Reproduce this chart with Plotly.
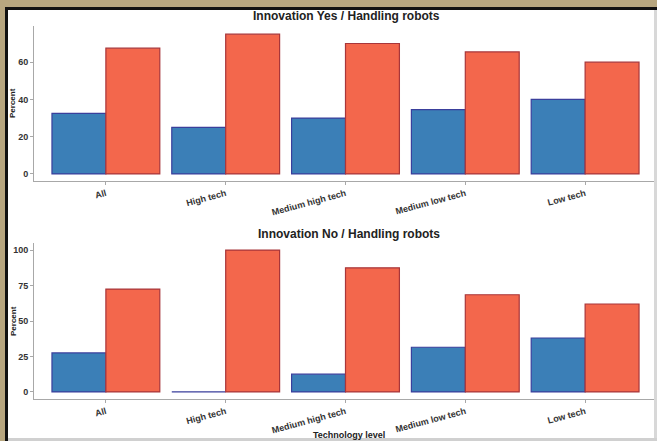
import plotly.graph_objects as go

# Technology levels and shares (percent) of firms without / with handling robots
categories = ["All", "High tech", "Medium high tech", "Medium low tech", "Low tech"]
yes_no_robots = [32.5, 25.0, 30.0, 34.5, 40.0]
yes_robots = [67.5, 75.0, 70.0, 65.5, 60.0]
no_no_robots = [27.5, 0.0, 12.5, 31.5, 38.0]
no_robots = [72.5, 100.0, 87.5, 68.5, 62.0]

W, H = 657, 441
BLUE, BLUE_EDGE = "#3b7fb7", "#3a3f9c"
RED, RED_EDGE = "#f3674c", "#a8363a"
FONT = "Liberation Sans"


def py(px):
    return 1 - px / H


def px_x(px):
    return px / W


fig = go.Figure()

for xa, ya, low, high in [("x", "y", yes_no_robots, yes_robots),
                          ("x2", "y2", no_no_robots, no_robots)]:
    fig.add_trace(go.Bar(x=categories, y=low, xaxis=xa, yaxis=ya,
                         marker=dict(color=BLUE, line=dict(color=BLUE_EDGE, width=1.2)),
                         showlegend=False))
    fig.add_trace(go.Bar(x=categories, y=high, xaxis=xa, yaxis=ya,
                         marker=dict(color=RED, line=dict(color=RED_EDGE, width=1.2)),
                         showlegend=False))

tickfont = dict(family=FONT, size=9, color="#333333", weight="bold")
xcommon = dict(range=[-0.6, 4.6], showline=True, linecolor="#a8a8a8", linewidth=1,
               ticks="outside", ticklen=3, tickcolor="#a8a8a8", tickangle=-15,
               tickfont=tickfont, showgrid=False, zeroline=False, fixedrange=True,
               domain=[px_x(34), 1.0])
ycommon = dict(showline=True, linecolor="#a8a8a8", linewidth=1, ticks="outside",
               ticklen=3, tickcolor="#a8a8a8", tickfont=tickfont, showgrid=False,
               zeroline=False, fixedrange=True)

fig.update_layout(
    width=W, height=H, margin=dict(l=0, r=0, t=0, b=0),
    paper_bgcolor="white", plot_bgcolor="white",
    barmode="group", bargap=0.1, bargroupgap=0,
    xaxis=dict(**xcommon, anchor="y"),
    yaxis=dict(**ycommon, anchor="x", range=[-3.78, 79.4], tickvals=[0, 20, 40, 60],
               domain=[py(181), py(26)]),
    xaxis2=dict(**xcommon, anchor="y2"),
    yaxis2=dict(**ycommon, anchor="x2", range=[-5, 105], tickvals=[0, 25, 50, 75, 100],
                domain=[py(399), py(243)]),
)

titlefont = dict(family=FONT, size=12, color="#222222", weight="bold")
labelfont = dict(family=FONT, size=8, color="#222222", weight="bold")
annotations = [
    dict(text="Innovation Yes / Handling robots", x=px_x(346), y=py(16), font=titlefont),
    dict(text="Innovation No / Handling robots", x=px_x(349), y=py(234), font=titlefont),
    dict(text="Percent", x=px_x(13), y=py(103), font=labelfont, textangle=-90),
    dict(text="Percent", x=px_x(13), y=py(321), font=labelfont, textangle=-90),
    dict(text="Technology level", x=px_x(349), y=py(435),
         font=dict(family=FONT, size=9, color="#222222", weight="bold")),
]
for a in annotations:
    a.update(xref="paper", yref="paper", showarrow=False, xanchor="center", yanchor="middle")
fig.update_layout(annotations=annotations)

# Frame around the figure: tan strip, dark rule, faint grey edge
shapes = [
    dict(type="rect", x0=0, x1=1, y0=py(7), y1=1, fillcolor="#b7a67f", line_width=0),
    dict(type="rect", x0=0, x1=px_x(5), y0=0, y1=1, fillcolor="#b7a67f", line_width=0),
    dict(type="rect", x0=px_x(5), x1=1, y0=py(10), y1=py(7), fillcolor="#111111", line_width=0),
    dict(type="rect", x0=px_x(5), x1=px_x(8), y0=0, y1=py(7), fillcolor="#111111", line_width=0),
    dict(type="rect", x0=px_x(654), x1=1, y0=0, y1=py(10), fillcolor="#d8d8d8", line_width=0),
    dict(type="rect", x0=px_x(8), x1=1, y0=0, y1=py(438), fillcolor="#d0d0d0", line_width=0),
]
for s in shapes:
    s.update(xref="paper", yref="paper")
fig.update_layout(shapes=shapes)

fig.write_html("out.html")
